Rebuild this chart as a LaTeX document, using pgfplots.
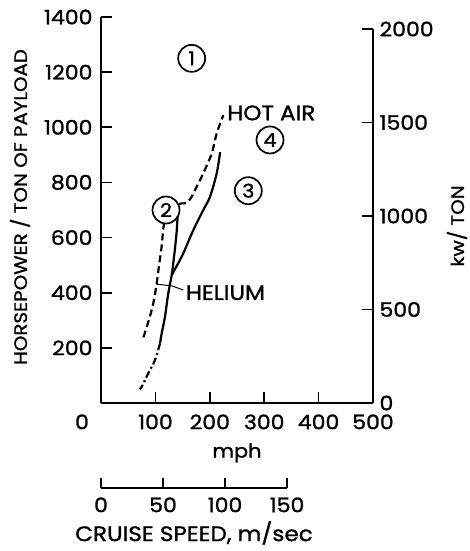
\documentclass[border=0pt]{standalone}
\usepackage{fontspec}
\setmainfont{Poppins}[FakeStretch=1.1, FakeBold=1.2]
\usepackage{pgfplots}
\pgfplotsset{compat=1.18}
\usetikzlibrary{calc}

\newcommand\tickfont{\fontsize{20}{22}\selectfont}
\newcommand\labfont{\fontsize{21}{23}\selectfont}

\begin{document}
\begin{tikzpicture}
\tikzset{
  num/.style={circle, draw, line width=1.7pt, fill=white, minimum size=27pt, inner sep=0pt, font=\fontsize{19}{19}\selectfont},
}
\pgfplotsset{
  every axis/.append style={
    scale only axis,
    /pgf/number format/assume math mode=true,
    /pgf/number format/1000 sep={},
    axis line style={line width=2pt},
    tick style={black, line width=1.6pt},
    tick label style={font=\tickfont},
    label style={font=\labfont},
    tick align=inside,
  },
  dsh/.style={black, line width=2.2pt, dash pattern=on 7pt off 4pt, smooth, tension=0.5},
  sld/.style={black, line width=2.2pt, smooth, tension=0.5},
  dd/.style={black, line width=2.2pt, dash pattern=on 7pt off 3pt on 2pt off 3pt, smooth, tension=0.5},
}
% main axis, hp per ton vs mph
\begin{axis}[
  name=main,
  width=272pt, height=386pt,
  xmin=0, xmax=500, ymin=0, ymax=1400,
  axis x line*=bottom, axis y line*=left,
  xtick={100,200,300,400,500},
  ytick={200,400,...,1400},
  major tick length=11pt,
  extra x ticks={0},
  extra x tick style={major tick length=0pt, tick label style={xshift=-19pt}},
  xticklabel style={yshift=-8pt},
  yticklabel style={xshift=-5pt},
  xlabel={mph},
  xlabel style={at={($(axis description cs:0.5,0)+(0,-50pt)$)}, anchor=center, font=\fontsize{19}{21}\selectfont},
  ylabel={HORSEPOWER / TON OF PAYLOAD},
  ylabel style={at={($(axis description cs:0,0.5)+(-81pt,3pt)$)}, anchor=center, font=\fontsize{18}{20}\selectfont},
  clip=false,
]
% hot air, dashed
\addplot[dsh] coordinates {
  (78,238) (88,301) (96.1,361) (102.4,434) (107.2,506) (111,560)
  (114,620) (116.4,657) (125,705) (140,720) (148.3,724) (157.5,726)
  (166.7,748) (172.8,772) (188,833) (203.5,905) (212.7,978) (224.8,1044)
};
% solid diagonal
\addplot[sld] coordinates {
  (219,910) (212.7,833) (200.4,748) (188,700) (169.7,627)
  (151.3,543) (140,500) (130,464)
};
% solid from circle 2
\addplot[sld] coordinates {
  (141,680) (139,620) (136,560) (133,510) (130,464) (123.7,398)
  (117.6,313) (111.6,253) (108.5,216)
};
% dash-dot tail
\addplot[dd] coordinates {
  (108.5,216) (99.3,156) (87,108) (74.8,59) (71,50)
};
\draw[line width=1pt] (102,431) -- (130,425) -- (151,410);
\node[anchor=west, font=\labfont, inner sep=1pt] at (154,400) {HELIUM};
\node[anchor=west, font=\labfont, inner sep=1pt] at (230,1052) {HOT AIR};
\node[num] at (166.7,1250) {1};
\node[num] at (119.5,700) {2};
\node[num] at (270.8,770) {3};
\node[num] at (310.7,954) {4};
\end{axis}
% right axis, kw per ton
\begin{axis}[
  at={(main.south west)}, anchor=south west,
  width=272pt, height=374pt,
  xmin=0, xmax=500, ymin=0, ymax=2000,
  hide x axis, axis y line*=right,
  ytick={0,500,...,2000},
  major tick length=11pt,
  yticklabel style={xshift=3pt},
  ylabel={kw/ TON},
  ylabel style={at={($(axis description cs:1,0.5)+(84pt,-10pt)$)}, anchor=center, font=\fontsize{18}{20}\selectfont},
]
\end{axis}
% cruise speed scale in m/sec
\begin{axis}[
  at={($(main.south west)+(0,-85pt)$)}, anchor=south west,
  width=186pt, height=10pt,
  xmin=0, xmax=150, ymin=0, ymax=1,
  hide y axis, axis x line*=bottom,
  xtick={0,50,100,150},
  major tick length=10pt,
  xticklabel style={yshift=-6pt},
  xlabel={CRUISE SPEED, m/sec},
  xlabel style={at={($(axis description cs:0.5,0)+(0,-45pt)$)}, anchor=center},
]
\end{axis}
\pgfresetboundingbox
\path[use as bounding box] (main.south west) ++(-101pt,-148pt) rectangle ++(469pt,551pt);
\end{tikzpicture}
\end{document}
